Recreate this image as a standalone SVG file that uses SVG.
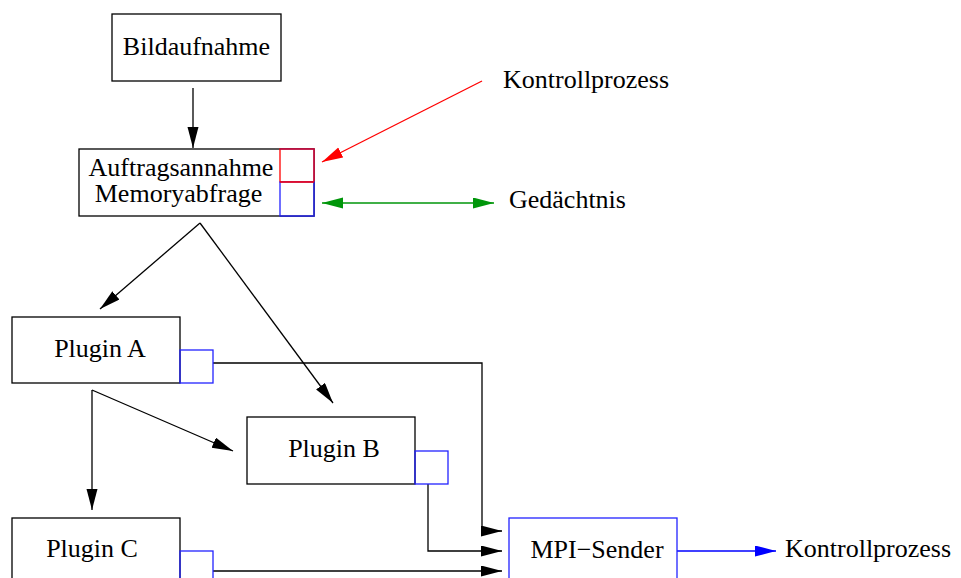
<svg xmlns="http://www.w3.org/2000/svg" width="961" height="578" viewBox="0 0 961 578">
<style>
text{font-family:"Liberation Serif","Times New Roman",serif;font-size:26px;fill:#000}
.m{text-anchor:middle}
.box{fill:#fff;stroke:#000;stroke-width:1.3}
.bsq{fill:none;stroke:#2222ff;stroke-width:1.3}
.ln{fill:none;stroke:#000;stroke-width:1.3}
</style>
<defs>
<marker id="ak" markerUnits="userSpaceOnUse" markerWidth="22" markerHeight="12" refX="21" refY="5.5" orient="auto"><path d="M0,0 L21,5.5 L0,11 Z" fill="#000"/></marker>
<marker id="ar" markerUnits="userSpaceOnUse" markerWidth="22" markerHeight="12" refX="21" refY="5.5" orient="auto"><path d="M0,0 L21,5.5 L0,11 Z" fill="#ff0000"/></marker>
<marker id="ag" markerUnits="userSpaceOnUse" markerWidth="22" markerHeight="12" refX="21" refY="5.5" orient="auto-start-reverse"><path d="M0,0 L21,5.5 L0,11 Z" fill="#00960a"/></marker>
<marker id="ab" markerUnits="userSpaceOnUse" markerWidth="22" markerHeight="12" refX="21" refY="5.5" orient="auto"><path d="M0,0 L21,5.5 L0,11 Z" fill="#0000ff"/></marker>
</defs>
<rect width="961" height="578" fill="#fff"/>
<g id="connectors">
<path class="ln" d="M193,88 V148" marker-end="url(#ak)"/>
<path class="ln" d="M200,223 L100,309" marker-end="url(#ak)"/>
<path class="ln" d="M200,223 L333,403" marker-end="url(#ak)"/>
<path class="ln" d="M92,390 V510" marker-end="url(#ak)"/>
<path class="ln" d="M92,390 L233,451" marker-end="url(#ak)"/>
<path d="M482,81 L322,162" fill="none" stroke="#ff0000" stroke-width="1.3" marker-end="url(#ar)"/>
<path d="M322,203 H494" fill="none" stroke="#00960a" stroke-width="1.5" marker-start="url(#ag)" marker-end="url(#ag)"/>
<path class="ln" d="M213,363 H482 V531 H502" marker-end="url(#ak)"/>
<path class="ln" d="M428,484 V551 H502" marker-end="url(#ak)"/>
<path class="ln" d="M213,571 H502" marker-end="url(#ak)"/>
<path d="M677,551 H776" fill="none" stroke="#0000ff" stroke-width="1.3" marker-end="url(#ab)"/>
</g>
<g id="bildaufnahme">
<rect class="box" x="112" y="14" width="169" height="67"/>
<text class="m" x="196.5" y="55">Bildaufnahme</text>
</g>
<g id="kontrollprozess-top">
<text x="503" y="88">Kontrollprozess</text>
</g>
<g id="auftragsannahme">
<rect class="box" x="79" y="149" width="235" height="67"/>
<rect x="280" y="149" width="34" height="33" fill="#fff" stroke="#ff0000" stroke-width="1.3"/>
<path d="M280,149 H314 V182" fill="none" stroke="#b0104c" stroke-width="1.4"/>
<rect x="280" y="182" width="34" height="34" fill="#fff" stroke="#2222ff" stroke-width="1.3"/>
<path d="M314,182 V216 H280" fill="none" stroke="#2a2ac0" stroke-width="1.4"/>
<line x1="280" y1="182" x2="314" y2="182" stroke="#ff0000" stroke-width="1.3"/>
<text class="m" x="181" y="176">Auftragsannahme</text>
<text class="m" x="178.5" y="202">Memoryabfrage</text>
</g>
<g id="gedaechtnis">
<text x="509" y="208">Gedächtnis</text>
</g>
<g id="plugin-a">
<rect class="box" x="12" y="317" width="168" height="66"/>
<rect class="bsq" x="180" y="350" width="33" height="33"/>
<text class="m" x="100" y="357">Plugin A</text>
</g>
<g id="plugin-b">
<rect class="box" x="247" y="417" width="168" height="67"/>
<rect class="bsq" x="415" y="451" width="33" height="33"/>
<text class="m" x="334" y="457">Plugin B</text>
</g>
<g id="plugin-c">
<rect class="box" x="12" y="518" width="168" height="67"/>
<rect class="bsq" x="180" y="551" width="33" height="33"/>
<text class="m" x="92" y="557">Plugin C</text>
</g>
<g id="mpi-sender">
<rect x="509" y="518" width="168" height="67" fill="#fff" stroke="#2222ff" stroke-width="1.3"/>
<text class="m" x="597" y="558">MPI−Sender</text>
</g>
<g id="kontrollprozess-bottom">
<text x="785" y="557">Kontrollprozess</text>
</g>
</svg>
